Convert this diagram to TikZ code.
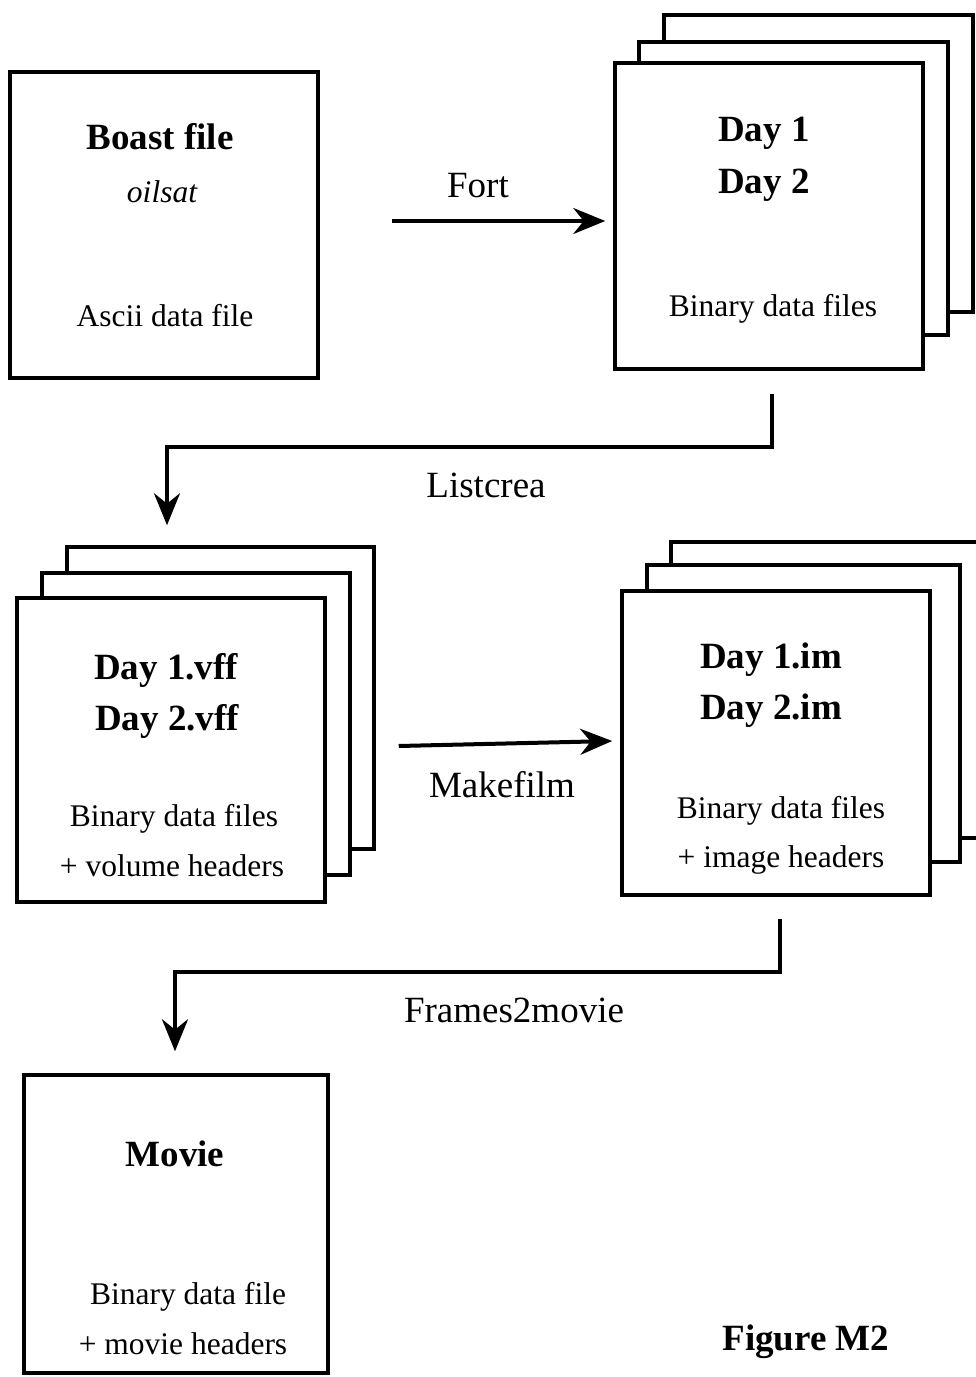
\documentclass[tikz,border=0pt]{standalone}
\usepackage{fontspec}
\setmainfont{Liberation Serif}
\usetikzlibrary{arrows.meta}
\usetikzlibrary{positioning}

\tikzset{
  sheet/.style={draw, line width=3.5pt, fill=white},
  filebox/.style={sheet, minimum width=308pt, minimum height=306pt, inner sep=0pt},
  bigtxt/.style={font=\fontsize{37}{44}\selectfont\bfseries, anchor=base},
  smalltxt/.style={font=\fontsize{31.5}{36}\selectfont, anchor=base},
  flowlbl/.style={font=\fontsize{37}{44}\selectfont, anchor=base},
  flow/.style={line width=4pt, -{Stealth[length=32pt,width=26pt]}},
}

\begin{document}
\begin{tikzpicture}[x=1pt, y=-1pt]

 \useasboundingbox (0,0) rectangle (976,1377);

 % boast file
 \node[filebox] (boast) at (164,225) {};
 \node[bigtxt] (boastT) at (160,149) {Boast file};
 \node[smalltxt] (oilsat) at (162,202) {\itshape oilsat};
 \node[smalltxt] (ascii) at (165,326) {Ascii data file};

 % days
 \foreach \x/\y/\X/\Y in {664/15/973/312, 639/42/948/335}
         \draw[sheet] (\x,\y) rectangle (\X,\Y);
 \node[filebox] (days) at (769,216) {};
 \node[bigtxt] (d1) at (764,141) {Day 1};
 \node[bigtxt] (d2) at (764,193) {Day 2};
 \node[smalltxt] (bin1) at (773,316) {Binary data files};

 %level 2
 \foreach \x/\y/\X/\Y in {67/547/374/849, 42/573/350/875}
         \draw[sheet] (\x,\y) rectangle (\X,\Y);
 \node[filebox, minimum height=304pt] (vff) at (171,750) {};
 \node[bigtxt] (v1) at (166,679) {Day 1.vff};
 \node[bigtxt] (v2) at (167,730) {Day 2.vff};
 \node[smalltxt] (bin2) at (174,826) {Binary data files};
 \node[smalltxt] (vhead) at (172,876) {+ volume headers};

 \foreach \x/\y/\X/\Y in {671/542/985/838, 647/565/960/862}
         \draw[sheet] (\x,\y) rectangle (\X,\Y);
 \node[filebox, minimum height=304pt] (im) at (776,743) {};
 \node[bigtxt] (i1) at (771,668) {Day 1.im};
 \node[bigtxt] (i2) at (771,719) {Day 2.im};
 \node[smalltxt] (bin3) at (781,818) {Binary data files};
 \node[smalltxt] (ihead) at (781,867) {+ image headers};

 %level 3
 \node[filebox, minimum width=304pt, minimum height=298pt] (movie) at (176,1224) {};
 \node[bigtxt] (mv) at (175,1166) {Movie};
 \node[smalltxt] (bin4) at (188,1304) {Binary data file};
 \node[smalltxt] (mhead) at (183,1354) {+ movie headers};

 \node[bigtxt] (fig) at (806,1350) {Figure M2};

 % arrows
 \draw[flow] ([xshift=72pt,yshift=4pt]boast.east) -- ([xshift=-8pt,yshift=-5pt]days.west);
 \node[flowlbl] (fort) at (478,197) {Fort};

 \draw[flow] ([xshift=3pt,yshift=-23pt]days.south) -- ++(0,53) -| ([xshift=-4pt,yshift=71pt]vff.north);
 \node[flowlbl] (listcrea) at (486,497) {Listcrea};

 \draw[flow] ([xshift=72pt,yshift=4pt]vff.east) -- ([xshift=-8pt,yshift=2pt]im.west);
 \node[flowlbl] (makefilm) at (502,797) {Makefilm};

 \draw[flow] ([xshift=4pt,yshift=-22pt]im.south) -- ++(0,53) -| ([xshift=-1pt,yshift=22pt]movie.north);
 \node[flowlbl] (frames) at (514,1022) {Frames2movie};

\end{tikzpicture}
\end{document}
